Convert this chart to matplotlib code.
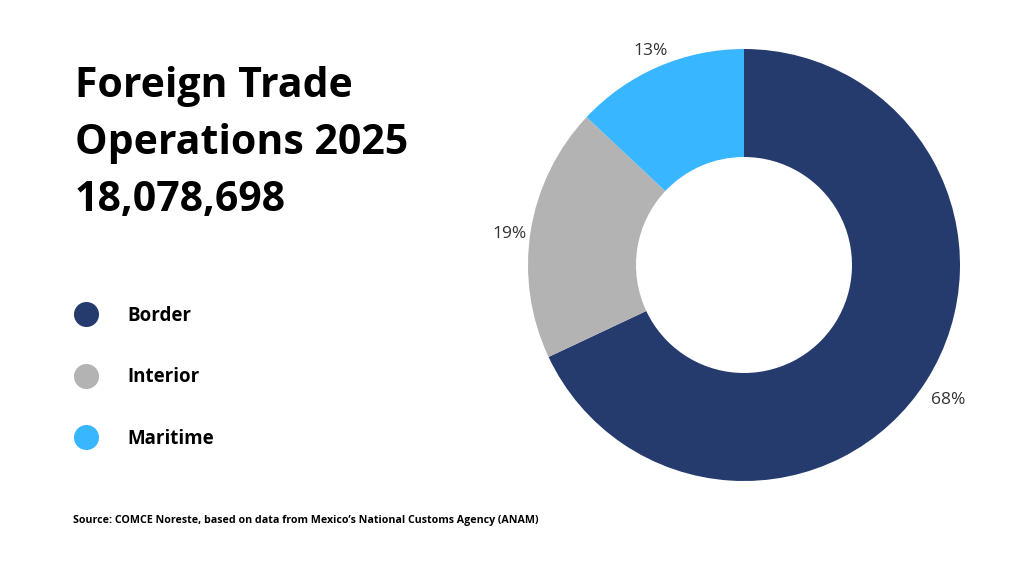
import matplotlib.pyplot as plt

# Share of foreign trade operations by customs type, 2025
categories = ['Border', 'Interior', 'Maritime']
shares = [68, 19, 13]
colors = ['#253b6e', '#b3b3b3', '#38b6ff']

title_lines = ['Foreign Trade', 'Operations 2025', '18,078,698']
source = 'Source: COMCE Noreste, based on data from Mexico\u2019s National Customs Agency (ANAM)'

plt.rcParams['font.family'] = ['Open Sans', 'DejaVu Sans']

W, H = 1024, 576
fig = plt.figure(figsize=(W / 100, H / 100), dpi=100)
fig.patch.set_facecolor('white')

# donut on the right
ax = fig.add_axes([528 / W, 1 - 481 / H, 432 / W, 432 / H])
wedges, texts, autotexts = ax.pie(
    shares, colors=colors, startangle=90, counterclock=False, radius=1,
    wedgeprops=dict(width=0.5, linewidth=0),
    autopct='%d%%', pctdistance=1.11,
    textprops=dict(fontsize=12.5, color='#333333'))
# labels sit a little lower than the plain pie position
for t in autotexts:
    x, y = t.get_position()
    t.set_position((x + 0.01, y - 0.03))
ax.set_xlim(-1, 1)
ax.set_ylim(-1, 1)
ax.set_aspect('equal')
ax.axis('off')

# title block
for i, line in enumerate(title_lines):
    fig.text(75 / W, 1 - (97 + i * 57) / H, line, fontsize=29.5,
             fontweight='bold', color='black', ha='left', va='baseline')

# legend with dots
overlay = fig.add_axes([0, 0, 1, 1])
overlay.set_xlim(0, W)
overlay.set_ylim(H, 0)
overlay.axis('off')
for i, (cat, col) in enumerate(zip(categories, colors)):
    y = 314 + i * 61.5
    overlay.scatter([86], [y], s=25 ** 2 * 0.52, color=col, linewidths=0)
    overlay.text(127, y + 2, cat, fontsize=13.5, fontweight='bold',
                 color='black', ha='left', va='center')

fig.text(73 / W, 1 - 520 / H, source, fontsize=7.7, fontweight='bold',
         color='black', ha='left', va='center')

fig.savefig('out.png', dpi=100, facecolor='white')
